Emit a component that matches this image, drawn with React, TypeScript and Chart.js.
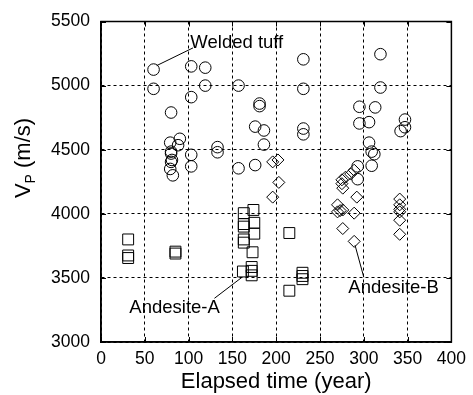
import React, { useEffect, useRef } from "react";
import { Chart, registerables } from "chart.js";

Chart.register(...registerables);

const FONT = "'Liberation Sans', Arial, Helvetica, sans-serif";

// [elapsed time (year), Vp (m/s)]
const weldedTuff: [number, number][] = [
  [60, 5125], [60, 4975], [103, 5150], [119, 5140], [119, 5000], [103, 4910],
  [157, 5000], [80, 4790], [181, 4860], [181, 4840], [176, 4680], [186, 4650],
  [186, 4540], [133, 4520], [133, 4480], [103, 4460], [103, 4370], [157, 4355],
  [176, 4380], [79, 4555], [90, 4585], [88, 4535], [80, 4485], [80, 4470],
  [81, 4420], [80, 4405], [79, 4350], [82, 4300], [231, 5205], [319, 5245],
  [231, 4975], [319, 4985], [231, 4665], [231, 4620], [295, 4835], [313, 4830],
  [295, 4705], [306, 4715], [347, 4735], [347, 4675], [342, 4645], [306, 4555],
  [309, 4485], [312, 4465], [309, 4375], [293, 4370], [293, 4270],
];

const andesiteA: [number, number][] = [
  [31, 3800], [31, 3675], [31, 3655], [85, 3705], [85, 3690], [163, 4005],
  [174, 4030], [163, 3920], [163, 3900], [175, 3930], [175, 3845], [163, 3800],
  [163, 3775], [173, 3700], [162, 3550], [172, 3585], [172, 3555], [172, 3520],
  [215, 3850], [215, 3400], [230, 3540], [230, 3515], [230, 3490],
];

const andesiteB: [number, number][] = [
  [196, 4405], [202, 4420], [203, 4245], [196, 4130], [275, 4265], [279, 4285],
  [285, 4310], [289, 4340], [275, 4235], [276, 4200], [270, 4070], [273, 4025],
  [276, 4030], [270, 4015], [292, 4130], [289, 4005], [276, 3885], [289, 3785],
  [341, 4115], [341, 4070], [341, 4035], [341, 4015], [341, 3950], [341, 3840],
];

const xTicks = [0, 50, 100, 150, 200, 250, 300, 350, 400];
const yTicks = [3000, 3500, 4000, 4500, 5000, 5500];

// annotation: label text, text anchor (data), leader line from -> to (data)
const labels = [
  { text: "Welded tuff", at: [102, 5335], align: "left", from: [63.6, 5156], to: [105, 5294] },
  { text: "Andesite-A", at: [84, 3266], align: "center", from: [161, 3505], to: [129.5, 3341] },
  { text: "Andesite-B", at: [334, 3422], align: "center", from: [290, 3755], to: [300, 3505] },
];

const toPts = (a: [number, number][]) => a.map(([x, y]) => ({ x, y }));

const framePlugin = {
  id: "frame",
  afterDraw(chart: any) {
    const { ctx, chartArea: a, scales } = chart;
    const xs = scales.x, ys = scales.y;
    ctx.save();
    ctx.strokeStyle = "#000";
    ctx.lineWidth = 1.5;
    ctx.setLineDash([]);
    ctx.strokeRect(a.left, a.top, a.right - a.left, a.bottom - a.top);
    ctx.lineWidth = 1;
    const tl = 5;
    ctx.beginPath();
    xTicks.forEach((v) => {
      const px = Math.round(xs.getPixelForValue(v)) + 0.5;
      ctx.moveTo(px, a.bottom); ctx.lineTo(px, a.bottom - tl);
      ctx.moveTo(px, a.top); ctx.lineTo(px, a.top + tl);
    });
    yTicks.forEach((v) => {
      const py = Math.round(ys.getPixelForValue(v)) + 0.5;
      ctx.moveTo(a.left, py); ctx.lineTo(a.left + tl, py);
      ctx.moveTo(a.right, py); ctx.lineTo(a.right - tl, py);
    });
    ctx.stroke();

    // annotations
    ctx.fillStyle = "#000";
    ctx.font = `18.5px ${FONT}`;
    ctx.textBaseline = "middle";
    labels.forEach((l) => {
      ctx.beginPath();
      ctx.moveTo(xs.getPixelForValue(l.from[0]), ys.getPixelForValue(l.from[1]));
      ctx.lineTo(xs.getPixelForValue(l.to[0]), ys.getPixelForValue(l.to[1]));
      ctx.stroke();
      ctx.textAlign = l.align as CanvasTextAlign;
      ctx.fillText(l.text, xs.getPixelForValue(l.at[0]), ys.getPixelForValue(l.at[1]));
    });

    // y-axis title with subscript
    const cx = 24;
    const cy = 158;
    ctx.translate(cx, cy);
    ctx.rotate(-Math.PI / 2);
    ctx.textAlign = "left";
    ctx.textBaseline = "middle";
    const big = `22px ${FONT}`;
    const small = `14px ${FONT}`;
    ctx.font = big;
    const wV = ctx.measureText("V").width;
    const rest = " (m/s)";
    const wR = ctx.measureText(rest).width;
    ctx.font = small;
    const wP = ctx.measureText("P").width;
    const total = wV + wP + wR;
    let x0 = -total / 2;
    ctx.font = big;
    ctx.fillText("V", x0, 0);
    x0 += wV;
    ctx.font = small;
    ctx.fillText("P", x0, 7);
    x0 += wP;
    ctx.font = big;
    ctx.fillText(rest, x0, 0);
    ctx.restore();
  },
};

export default function App() {
  const ref = useRef<HTMLCanvasElement>(null);
  useEffect(() => {
    document.body.style.margin = "0";
    const tickFont = { family: FONT, size: 17.5 };
    const chart = new Chart(ref.current!, {
      type: "scatter",
      data: {
        datasets: [
          {
            label: "Welded tuff",
            data: toPts(weldedTuff),
            pointStyle: "circle",
            pointRadius: 5.8,
            backgroundColor: "rgba(0,0,0,0)",
            borderColor: "#000",
            borderWidth: 1,
          },
          {
            label: "Andesite-A",
            data: toPts(andesiteA),
            pointStyle: "rect",
            pointRadius: 7.7,
            backgroundColor: "rgba(0,0,0,0)",
            borderColor: "#000",
            borderWidth: 1,
          },
          {
            label: "Andesite-B",
            data: toPts(andesiteB),
            pointStyle: "rectRot",
            pointRadius: 6,
            backgroundColor: "rgba(0,0,0,0)",
            borderColor: "#000",
            borderWidth: 1,
          },
        ],
      },
      options: {
        responsive: false,
        animation: false,
        events: [],
        layout: { padding: { top: 10, right: 20, left: 0, bottom: 0 } },
        plugins: { legend: { display: false }, tooltip: { enabled: false } },
        scales: {
          x: {
            type: "linear",
            min: 0,
            max: 400,
            afterBuildTicks: (s: any) => { s.ticks = xTicks.map((v) => ({ value: v })); },
            afterFit: (s: any) => { s.height = 53; },
            ticks: { font: tickFont, color: "#000", padding: 7, maxRotation: 0, callback: (v: any) => String(v) },
            grid: { color: "#000", lineWidth: 1, drawTicks: false },
            border: { display: true, color: "#000", width: 1.5, dash: [3, 3] },
            title: { display: true, text: "Elapsed time (year)", font: { family: FONT, size: 22 }, color: "#000", padding: 0 },
          },
          y: {
            type: "linear",
            min: 3000,
            max: 5500,
            afterBuildTicks: (s: any) => { s.ticks = yTicks.map((v) => ({ value: v })); },
            afterFit: (s: any) => { s.width = 101; },
            ticks: { font: tickFont, color: "#000", padding: 11, callback: (v: any) => String(v) },
            grid: { color: "#000", lineWidth: 1, drawTicks: false },
            border: { display: true, color: "#000", width: 1.5, dash: [3, 3] },
          },
        },
      },
      plugins: [framePlugin],
    } as any);
    return () => chart.destroy();
  }, []);
  return <canvas ref={ref} width={473} height={395} style={{ display: "block" }} />;
}
